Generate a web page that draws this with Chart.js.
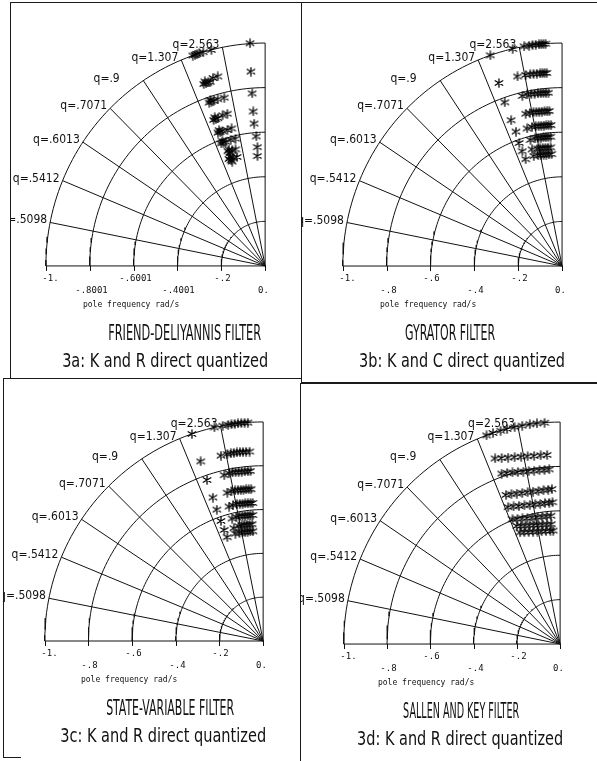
<!DOCTYPE html>
<html>
<head>
<meta charset="utf-8">
<script src="https://cdn.jsdelivr.net/npm/chart.js@4.4.0/dist/chart.umd.min.js"></script>
<style>
    body { margin: 0; background: #fff; width: 597px; height: 761px; position: relative; overflow: hidden; }
    .panel { position: absolute; }
    .rule { position: absolute; background: #1a1a1a; }
</style>
</head>
<body>
<div class="panel" style="left:10px;top:3px;"><canvas id="chartA" width="292" height="375"></canvas></div>
<div class="panel" style="left:302px;top:3px;"><canvas id="chartB" width="295" height="380"></canvas></div>
<div class="panel" style="left:3px;top:378px;"><canvas id="chartC" width="298" height="379"></canvas></div>
<div class="panel" style="left:301px;top:383px;"><canvas id="chartD" width="296" height="378"></canvas></div>

<div class="rule" style="left:10px;top:2px;width:587px;height:1px;"></div>
<div class="rule" style="left:10px;top:2px;width:1px;height:376px;"></div>
<div class="rule" style="left:301px;top:2px;width:1px;height:381px;"></div>
<div class="rule" style="left:3px;top:378px;width:299px;height:1px;"></div>
<div class="rule" style="left:301px;top:382px;width:296px;height:2px;"></div>
<div class="rule" style="left:3px;top:378px;width:1px;height:380px;"></div>
<div class="rule" style="left:300px;top:383px;width:1px;height:378px;"></div>
<div class="rule" style="left:3px;top:757px;width:18px;height:1px;"></div>

<script>
// ---- grid definition ----
const qValues = [0.5098, 0.5412, 0.6013, 0.7071, 0.9, 1.307, 2.563];
const qLabels = ['q=.5098', 'q=.5412', 'q=.6013', 'q=.7071', 'q=.9', 'q=1.307', 'q=2.563'];
const arcRadii = [0.2, 0.4, 0.6, 0.8, 1.0];
const tickValues = [-1, -0.8, -0.6, -0.4, -0.2, 0];
const tickLabelsA = ['-1.', '-.8001', '-.6001', '-.4001', '-.2', '0.'];
const tickLabels = ['-1.', '-.8', '-.6', '-.4', '-.2', '0.'];
const axisTitle = 'pole frequency rad/s';

// ---- pole locations (real part, imaginary part) ----
// 3a Friend-Deliyannis
const friendX = [
    -0.069, -0.065, -0.059, -0.054, -0.050, -0.040, -0.035, -0.035,
    -0.330, -0.320, -0.310, -0.300, -0.282, -0.245,
    -0.280, -0.270, -0.260, -0.250, -0.275, -0.238, -0.216,
    -0.255, -0.245, -0.235, -0.250, -0.216, -0.186,
    -0.235, -0.225, -0.215, -0.230, -0.194, -0.172,
    -0.215, -0.205, -0.195, -0.210, -0.172, -0.153,
    -0.200, -0.190, -0.180, -0.195, -0.157, -0.135,
    -0.170, -0.160, -0.150, -0.165, -0.135,
    -0.165, -0.155, -0.145, -0.160, -0.150, -0.128
];
const friendY = [
    0.999, 0.872, 0.774, 0.693, 0.639, 0.581, 0.533, 0.493,
    0.944, 0.947, 0.951, 0.954, 0.959, 0.969,
    0.816, 0.819, 0.823, 0.826, 0.828, 0.843, 0.850,
    0.733, 0.737, 0.741, 0.745, 0.748, 0.755,
    0.655, 0.659, 0.663, 0.667, 0.676, 0.683,
    0.598, 0.601, 0.605, 0.609, 0.610, 0.617,
    0.550, 0.553, 0.557, 0.561, 0.566, 0.571,
    0.515, 0.508, 0.518, 0.522, 0.523,
    0.480, 0.474, 0.486, 0.490, 0.468, 0.489
];
// 3b Gyrator
const gyratorX = [
    -0.327, -0.225, -0.173, -0.150, -0.135, -0.120, -0.105, -0.095, -0.085, -0.075,
    -0.288, -0.203, -0.166, -0.145, -0.130, -0.115, -0.100, -0.090, -0.080, -0.070,
    -0.261, -0.181, -0.159, -0.140, -0.125, -0.110, -0.097, -0.085, -0.073, -0.062,
    -0.232, -0.166, -0.147, -0.130, -0.117, -0.104, -0.092, -0.080, -0.068, -0.058,
    -0.210, -0.159, -0.137, -0.120, -0.107, -0.095, -0.083, -0.072, -0.061, -0.050,
    -0.195, -0.144, -0.122, -0.108, -0.096, -0.085, -0.074, -0.063, -0.052,
    -0.181, -0.137, -0.112, -0.100, -0.088, -0.076, -0.064, -0.052,
    -0.166, -0.129, -0.108, -0.096, -0.084, -0.072, -0.060, -0.048
];
const gyratorY = [
    0.945, 0.974, 0.985, 0.989, 0.991, 0.993, 0.994, 0.995, 0.996, 0.997,
    0.821, 0.850, 0.857, 0.860, 0.862, 0.863, 0.864, 0.865, 0.866, 0.866,
    0.734, 0.763, 0.770, 0.772, 0.773, 0.774, 0.775, 0.776, 0.777, 0.777,
    0.654, 0.683, 0.687, 0.690, 0.691, 0.692, 0.693, 0.694, 0.694, 0.695,
    0.603, 0.617, 0.624, 0.627, 0.628, 0.629, 0.630, 0.631, 0.632, 0.632,
    0.552, 0.566, 0.573, 0.575, 0.576, 0.577, 0.578, 0.579, 0.580,
    0.515, 0.523, 0.527, 0.528, 0.529, 0.530, 0.531, 0.532,
    0.479, 0.493, 0.497, 0.498, 0.499, 0.500, 0.501, 0.502
];
// 3c State-variable
const stateX = [
    -0.326, -0.223, -0.185, -0.160, -0.145, -0.130, -0.115, -0.100, -0.085, -0.070,
    -0.286, -0.193, -0.164, -0.148, -0.134, -0.120, -0.106, -0.092, -0.078, -0.062,
    -0.257, -0.178, -0.156, -0.140, -0.126, -0.112, -0.098, -0.084, -0.070, -0.058,
    -0.230, -0.164, -0.145, -0.128, -0.115, -0.102, -0.090, -0.078, -0.066, -0.055,
    -0.212, -0.156, -0.138, -0.120, -0.107, -0.094, -0.082, -0.070, -0.058, -0.048,
    -0.193, -0.142, -0.122, -0.108, -0.095, -0.083, -0.071, -0.059, -0.048,
    -0.178, -0.134, -0.112, -0.098, -0.086, -0.074, -0.062, -0.050,
    -0.164, -0.127, -0.108, -0.095, -0.083, -0.071, -0.059, -0.047
];
const stateY = [
    0.945, 0.975, 0.983, 0.987, 0.989, 0.991, 0.993, 0.995, 0.996, 0.997,
    0.820, 0.846, 0.853, 0.857, 0.859, 0.861, 0.862, 0.863, 0.864, 0.865,
    0.735, 0.757, 0.766, 0.770, 0.771, 0.772, 0.773, 0.774, 0.775, 0.776,
    0.655, 0.677, 0.684, 0.688, 0.689, 0.690, 0.691, 0.692, 0.693, 0.693,
    0.600, 0.614, 0.620, 0.625, 0.626, 0.627, 0.628, 0.629, 0.630, 0.630,
    0.548, 0.559, 0.566, 0.570, 0.571, 0.572, 0.573, 0.574, 0.575,
    0.507, 0.515, 0.524, 0.528, 0.530, 0.531, 0.532, 0.533,
    0.474, 0.490, 0.494, 0.496, 0.498, 0.499, 0.500, 0.501
];
// 3d Sallen and Key
const sallenX = [
    -0.340, -0.310, -0.275, -0.245, -0.210, -0.175, -0.140, -0.107, -0.072,
    -0.300, -0.270, -0.240, -0.210, -0.180, -0.150, -0.120, -0.090, -0.060,
    -0.270, -0.245, -0.220, -0.195, -0.170, -0.145, -0.120, -0.095, -0.072, -0.050,
    -0.250, -0.225, -0.200, -0.175, -0.150, -0.125, -0.100, -0.077, -0.055, -0.038,
    -0.240, -0.215, -0.190, -0.165, -0.140, -0.115, -0.092, -0.070, -0.050, -0.035,
    -0.220, -0.197, -0.174, -0.151, -0.128, -0.105, -0.083, -0.062, -0.042,
    -0.200, -0.180, -0.160, -0.140, -0.120, -0.100, -0.080, -0.060, -0.040,
    -0.185, -0.165, -0.145, -0.125, -0.105, -0.085, -0.065, -0.045, -0.032
];
const sallenY = [
    0.940, 0.951, 0.961, 0.969, 0.977, 0.984, 0.990, 0.994, 0.997,
    0.836, 0.838, 0.840, 0.842, 0.844, 0.846, 0.848, 0.850, 0.852,
    0.768, 0.771, 0.773, 0.775, 0.777, 0.779, 0.781, 0.783, 0.785, 0.787,
    0.672, 0.675, 0.678, 0.681, 0.684, 0.687, 0.690, 0.693, 0.696, 0.698,
    0.617, 0.620, 0.622, 0.625, 0.627, 0.630, 0.632, 0.635, 0.637, 0.639,
    0.562, 0.564, 0.566, 0.568, 0.570, 0.572, 0.574, 0.576, 0.578,
    0.532, 0.533, 0.534, 0.535, 0.536, 0.537, 0.538, 0.539, 0.540,
    0.503, 0.504, 0.505, 0.506, 0.507, 0.508, 0.509, 0.510, 0.511
];

const INK = '#111';
const NARROW = "'Liberation Sans Narrow', 'DejaVu Sans Condensed', 'Roboto', sans-serif";

// panel layout: origin pixel inside canvas and pixels per unit
const panels = [
    { id: 'chartA', xs: friendX, ys: friendY, ticks: tickLabelsA,
      title: 'FRIEND-DELIYANNIS FILTER', titleW: 153, sub: '3a: K and R direct quantized',
      ox: 259, oy: 265, sx: 227, sy: 229 },
    { id: 'chartB', xs: gyratorX, ys: gyratorY, ticks: tickLabels,
      title: 'GYRATOR FILTER', titleW: 90, sub: '3b: K and C direct quantized',
      ox: 264, oy: 265, sx: 227, sy: 229 },
    { id: 'chartC', xs: stateX, ys: stateY, ticks: tickLabels,
      title: 'STATE-VARIABLE FILTER', titleW: 128, sub: '3c: K and R direct quantized',
      ox: 264, oy: 265, sx: 226, sy: 225 },
    { id: 'chartD', xs: sallenX, ys: sallenY, ticks: tickLabels,
      title: 'SALLEN AND KEY FILTER', titleW: 116, sub: '3d: K and R direct quantized',
      ox: 263, oy: 263, sx: 224, sy: 228 }
];

function makeAsterisk() {
    const c = document.createElement('canvas');
    c.width = 10; c.height = 10;
    const g = c.getContext('2d');
    g.strokeStyle = '#000';
    g.lineWidth = 1.3;
    g.lineCap = 'round';
    g.beginPath();
    g.moveTo(5, 0.8); g.lineTo(5, 9.2);
    g.moveTo(1.2, 2.8); g.lineTo(8.8, 7.2);
    g.moveTo(1.2, 7.2); g.lineTo(8.8, 2.8);
    g.stroke();
    return c;
}
const asterisk = makeAsterisk();

function lineSet(points) {
    return {
        type: 'line', data: points, showLine: true, fill: false, tension: 0,
        borderColor: INK, borderWidth: 1, pointRadius: 0
    };
}

function gridSets() {
    const sets = [];
    arcRadii.forEach(r => {
        const pts = [];
        for (let d = 90; d <= 180; d += 1.5) {
            const t = d * Math.PI / 180;
            pts.push({ x: r * Math.cos(t), y: r * Math.sin(t) });
        }
        sets.push(lineSet(pts));
    });
    // constant-Q rays: cos(angle) = 1 / (2q)
    qValues.forEach(q => {
        const c = 1 / (2 * q);
        sets.push(lineSet([{ x: 0, y: 0 }, { x: -c, y: Math.sqrt(1 - c * c) }]));
    });
    sets.push(lineSet([{ x: -1, y: 0 }, { x: 0, y: 0 }]));
    sets.push(lineSet([{ x: 0, y: 0 }, { x: 0, y: 1 }]));
    return sets;
}

const polarText = {
    id: 'polarText',
    afterDatasetsDraw(chart, args, opts) {
        const ctx = chart.ctx;
        const px = v => chart.scales.x.getPixelForValue(v);
        const py = v => chart.scales.y.getPixelForValue(v);
        const x0 = px(0), y0 = py(0);
        ctx.save();
        ctx.fillStyle = INK;
        ctx.strokeStyle = INK;
        ctx.lineWidth = 1;

        // tick marks and staggered tick labels
        ctx.font = "9px 'DejaVu Sans Mono', monospace";
        ctx.textAlign = 'center';
        ctx.textBaseline = 'middle';
        tickValues.forEach((v, i) => {
            const x = Math.round(px(v)) + 0.5;
            ctx.beginPath();
            ctx.moveTo(x, y0);
            ctx.lineTo(x, y0 + 5);
            ctx.stroke();
            const shift = i === 0 ? 4 : (i === tickValues.length - 1 ? -2 : 1);
            ctx.fillText(opts.ticks[i], x + shift, y0 + (i % 2 === 0 ? 13 : 25));
        });

        ctx.font = "8px 'DejaVu Sans Mono', monospace";
        ctx.fillText(axisTitle, x0 - 134, y0 + 39);

        // q labels at the outer ends of the rays
        ctx.font = '12px ' + NARROW;
        ctx.textAlign = 'right';
        ctx.textBaseline = 'alphabetic';
        const digitW = ctx.measureText('0').width;
        qValues.forEach((q, i) => {
            const c = 1 / (2 * q);
            const ex = px(-c), ey = py(Math.sqrt(1 - c * c));
            const pad = (7 - qLabels[i].length) * digitW;
            ctx.fillText(qLabels[i], ex - 3 - pad, ey + 1);
        });

        // titles
        ctx.textAlign = 'left';
        ctx.textBaseline = 'middle';
        ctx.font = '21px ' + NARROW;
        ctx.fillText(opts.title, x0 - 157, y0 + 69, opts.titleW);
        ctx.font = '19px ' + NARROW;
        ctx.fillText(opts.sub, x0 - 203, y0 + 96, 206);
        ctx.restore();
    }
};

panels.forEach(p => {
    const canvas = document.getElementById(p.id);
    const w = canvas.width, h = canvas.height;
    const poles = p.xs.map((x, i) => ({ x: x, y: p.ys[i] }));
    const datasets = gridSets();
    datasets.unshift({
        type: 'scatter', data: poles, showLine: false,
        pointStyle: asterisk, pointRadius: 4, borderColor: INK
    });
    new Chart(canvas, {
        type: 'scatter',
        data: { datasets: datasets },
        options: {
            responsive: false,
            animation: false,
            events: [],
            layout: { padding: 0 },
            scales: {
                x: { type: 'linear', bounds: 'data', display: false,
                     min: -p.ox / p.sx, max: (w - p.ox) / p.sx },
                y: { type: 'linear', bounds: 'data', display: false,
                     min: -(h - p.oy) / p.sy, max: p.oy / p.sy }
            },
            plugins: {
                legend: { display: false },
                tooltip: { enabled: false },
                polarText: { ticks: p.ticks, title: p.title, titleW: p.titleW, sub: p.sub }
            }
        },
        plugins: [polarText]
    });
});
</script>
</body>
</html>
